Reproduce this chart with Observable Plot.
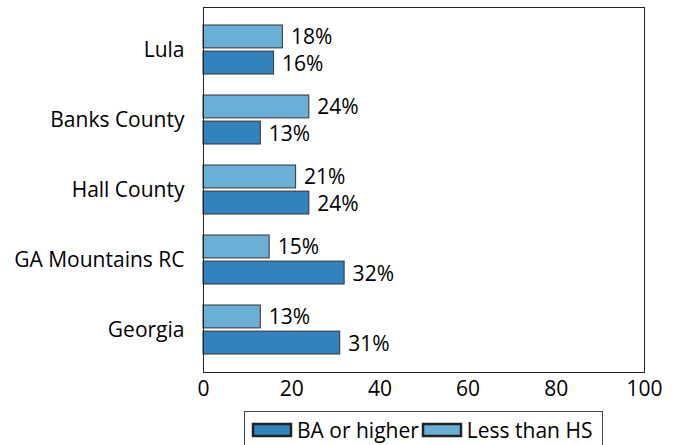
<!DOCTYPE html>
<html><head><meta charset="utf-8">
<script src="https://cdn.jsdelivr.net/npm/d3@7"></script>
<script src="https://cdn.jsdelivr.net/npm/@observablehq/plot@0.6"></script>
<style>
body{margin:0;background:#fff;font-family:"Open Sans",sans-serif;}
#legendbox{position:absolute;left:244px;top:411px;width:359px;height:40px;border:1px solid #444;box-sizing:border-box;padding:4px 0 0 8px;overflow:hidden;}
#legendbox > div{flex-wrap:nowrap !important;margin:0 !important;min-height:0 !important;}
.lg-swatch{font-family:"Open Sans",sans-serif;font-size:21px;color:#000;margin-right:4px !important;white-space:nowrap;}
.lg-swatch svg{margin-right:6px !important;}
.lg-swatch svg rect{stroke:#222;stroke-width:2.5px;}
</style></head><body>
<div id="chart"></div>
<div id="legendbox"></div>
<script>
const regions = ["Lula", "Banks County", "Hall County", "GA Mountains RC", "Georgia"];
const lessThanHS = [18, 24, 21, 15, 13];
const baOrHigher = [16, 13, 24, 32, 31];
const seriesNames = ["BA or higher", "Less than HS"];
const seriesColors = ["#3182bd", "#6baed6"];
const xTicks = [0, 20, 40, 60, 80, 100];

const light = regions.map((r, i) => ({region: r, value: lessThanHS[i], series: seriesNames[1]}));
const dark = regions.map((r, i) => ({region: r, value: baOrHigher[i], series: seriesNames[0]}));

const chart = Plot.plot({
  width: 676,
  height: 408,
  marginLeft: 203,
  marginRight: 32,
  marginTop: 7,
  marginBottom: 36,
  style: {fontFamily: "'Open Sans', sans-serif", fontSize: "21px", color: "#000", background: "#fff"},
  x: {domain: [0, 100], ticks: xTicks, label: null, tickSize: 0, tickPadding: 9},
  y: {domain: regions, paddingInner: 0.3, paddingOuter: 0.248, label: null, tickSize: 0, tickPadding: 19},
  color: {domain: seriesNames, range: seriesColors},
  marks: [
    Plot.barX(light, {x: "value", y: "region", fill: "series", stroke: "#333", strokeWidth: 1, insetBottom: 26.1}),
    Plot.barX(dark, {x: "value", y: "region", fill: "series", stroke: "#333", strokeWidth: 1, insetTop: 26.1}),
    Plot.text(light, {x: "value", y: "region", text: d => d.value + "%", textAnchor: "start", dx: 8, dy: -13, fontSize: 21, fill: "#000"}),
    Plot.text(dark, {x: "value", y: "region", text: d => d.value + "%", textAnchor: "start", dx: 8, dy: 14, fontSize: 21, fill: "#000"}),
    Plot.frame({stroke: "#222", strokeWidth: 1})
  ]
});
document.getElementById("chart").appendChild(chart);

const legend = Plot.legend({
  color: {type: "ordinal", domain: seriesNames, range: seriesColors},
  swatchWidth: 38,
  swatchHeight: 12,
  className: "lg",
  style: {fontFamily: "'Open Sans', sans-serif", fontSize: "21px", margin: 0}
});
document.getElementById("legendbox").appendChild(legend);
</script>
</body></html>
